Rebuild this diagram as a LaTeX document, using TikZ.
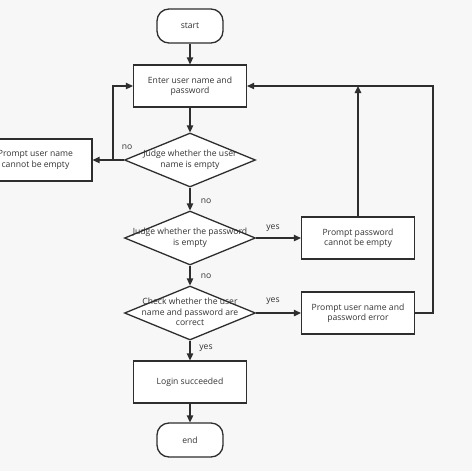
\documentclass[tikz,border=0pt]{standalone}
\usepackage{fontspec}
\setmainfont{Open Sans}
\usetikzlibrary{shapes.geometric,arrows.meta}

\definecolor{linegray}{HTML}{2E2E2E}
\definecolor{textgray}{HTML}{333333}
\definecolor{paper}{HTML}{F7F7F7}

% text of a decision may run over the edges of its diamond
\newcommand{\dtext}[1]{\makebox[0pt]{\begin{tabular}{@{}c@{}}#1\end{tabular}}}

\tikzset{%
  every box/.style={
    draw=linegray,
    fill=white,
    line width=1.3pt,
    text=textgray,
    align=center,
    font=\fontsize{8.6}{10.3}\selectfont
  },
  terminal/.style={
    every box,
    rectangle,
    rounded corners=12pt,
    minimum width=66pt,
    minimum height=34pt
  },
  process/.style={
    every box,
    rectangle,
    minimum width=113pt,
    minimum height=42pt
  },
  decision/.style={
    every box,
    diamond,
    inner sep=0pt,
    aspect=2.4,
    minimum width=131pt,
    minimum height=54pt
  },
  flow/.style={
    ->,
    draw=linegray,
    line width=1.3pt
  },
  branch/.style={
    text=textgray,
    inner sep=1pt,
    font=\fontsize{8.6}{10.3}\selectfont
  },
}

\begin{document}
\begin{tikzpicture}[x=1pt, y=-1pt, >={Triangle[length=7pt,width=6.5pt]}]

\fill [white] (0,0) rectangle (474,474);
\useasboundingbox [fill=paper] (0,0) rectangle (472,471);

\node [terminal] (start) at (190,26) {start};
\node [process] (enter) at (190,86) {Enter user name and\\password};
\node [decision] (judge-name) at (190,160) {\dtext{Judge whether the user\\name is empty}};
\node [process] (prompt-name) at (35.5,160) {Prompt user name\\cannot be empty};
\node [decision] (judge-pass) at (190,238) {\dtext{Judge whether the password\\is empty}};
\node [process] (prompt-pass) at (358,238) {Prompt password\\cannot be empty};
\node [decision] (check) at (190,313) {\dtext{Check whether the user\\name and password are\\correct}};
\node [process] (prompt-error) at (358,313) {Prompt user name and\\password error};
\node [process] (login) at (190,382) {Login succeeded};
\node [terminal] (end) at (190,440) {end};

\coordinate (back-name) at (113,160);
\coordinate (back-pass) at (358,86);
\coordinate (back-error) at (433,86);

\foreach \a/\b in {start/enter, enter/judge-name, judge-name/judge-pass,
                   judge-pass/check, check/login, login/end}
  \draw [flow] (\a) -- (\b);

\draw [flow] (judge-name) -- (prompt-name);
\draw [flow] (back-name) |- (enter.west);
\draw [flow] (judge-pass) -- (prompt-pass);
\draw [flow] (prompt-pass) -- (back-pass);
\draw [flow] (check) -- (prompt-error);
\draw [flow] (prompt-error.east) -| (back-error) -- (enter.east);

\foreach \t/\x/\y [count=\i] in {no/127/147, no/206/201, no/206/276,
                                 yes/273/228, yes/273/301, yes/206/348}
  \node [branch] (branch-\i) at (\x,\y) {\t};

\end{tikzpicture}
\end{document}
